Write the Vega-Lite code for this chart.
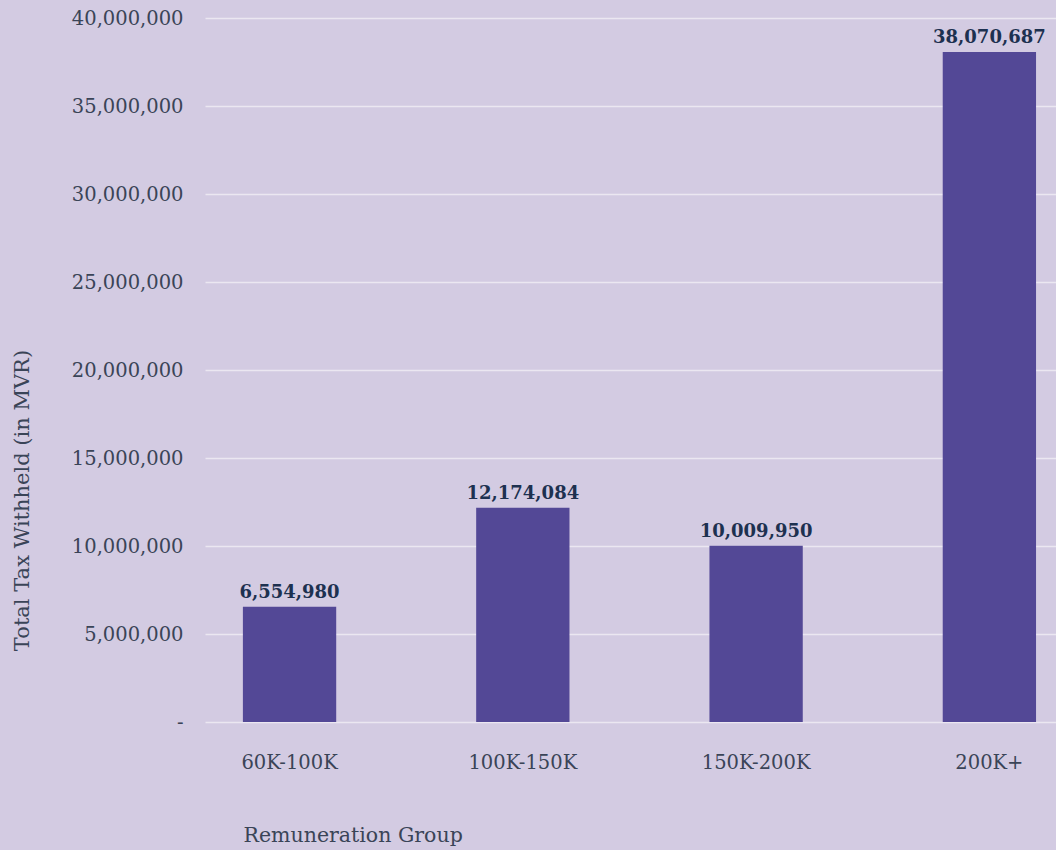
{
  "$schema": "https://vega.github.io/schema/vega-lite/v6.json",
  "width": 851,
  "height": 704,
  "autosize": {"type": "none"},
  "padding": {"left": 205, "top": 18, "right": 0, "bottom": 128},
  "background": "#d3cbe2",
  "config": {"view": {"stroke": null}},
  "data": {
    "values": [
      {"group": "60K-100K", "tax": 6554980},
      {"group": "100K-150K", "tax": 12174084},
      {"group": "150K-200K", "tax": 10009950},
      {"group": "200K+", "tax": 38070687}
    ]
  },
  "encoding": {
    "x": {
      "field": "group",
      "type": "nominal",
      "sort": null,
      "scale": {"paddingInner": 0.6, "paddingOuter": 0.124, "align": 0.655},
      "axis": {
        "title": "Remuneration Group",
        "labelAngle": 0,
        "labelFont": "DejaVu Serif",
        "labelFontSize": 19.5,
        "labelColor": "#3a4457",
        "labelPadding": 31,
        "ticks": false,
        "domain": false,
        "titleFont": "DejaVu Serif",
        "titleFontSize": 20.5,
        "titleFontWeight": "normal",
        "titleColor": "#3a4457",
        "titleAnchor": "start",
        "titleAlign": "left",
        "titleX": 38,
        "titleY": 103
      }
    },
    "y": {
      "field": "tax",
      "type": "quantitative",
      "scale": {"domain": [0, 40000000], "nice": false},
      "axis": {
        "title": "Total Tax Withheld (in MVR)",
        "values": [0, 5000000, 10000000, 15000000, 20000000, 25000000, 30000000, 35000000, 40000000],
        "labelExpr": "datum.value == 0 ? '-' : format(datum.value, ',')",
        "labelFont": "DejaVu Serif",
        "labelFontSize": 19.5,
        "labelColor": "#3a4457",
        "labelPadding": 22,
        "ticks": false,
        "domain": false,
        "grid": true,
        "gridColor": "#ebe7f1",
        "gridWidth": 1.6,
        "titleFont": "DejaVu Serif",
        "titleFontSize": 21,
        "titleFontWeight": "normal",
        "titleColor": "#3a4457",
        "titleAngle": -90,
        "titleAlign": "center",
        "titleBaseline": "middle",
        "titleX": -183,
        "titleY": 482
      }
    }
  },
  "layer": [
    {"mark": {"type": "bar", "color": "#534896"}},
    {
      "mark": {
        "type": "text",
        "font": "DejaVu Serif",
        "fontSize": 18,
        "fontWeight": "bold",
        "color": "#1d3150",
        "baseline": "alphabetic",
        "dy": -9
      },
      "encoding": {"text": {"field": "tax", "type": "quantitative", "format": ","}}
    }
  ]
}
